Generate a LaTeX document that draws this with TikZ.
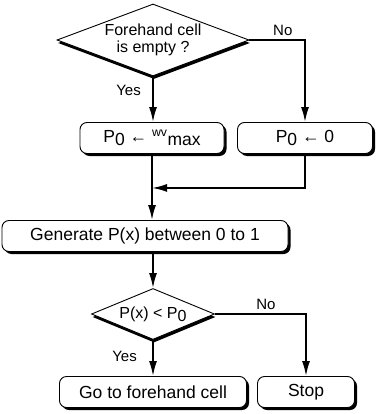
\documentclass[tikz,border=0pt]{standalone}
\usepackage{fontspec}
\setmainfont{Liberation Sans}
\usepackage{tikz}
\usetikzlibrary{arrows.meta}
\usetikzlibrary{shapes.geometric}
\usetikzlibrary{shadows}
\tikzset{>={Latex[length=15pt,width=8pt]}}
\newcommand{\lowered}[1]{\raisebox{-3pt}{#1}}
\tikzset{
  stepbox/.style={draw, line width=0.9pt, rounded corners=7pt, fill=white, inner sep=0pt,
    minimum height=31pt, font=\fontsize{17.5}{19}\selectfont,
    drop shadow={fill=black, opacity=1, shadow xshift=2.5pt, shadow yshift=-2.5pt}},
  test/.style={draw, diamond, line width=0.9pt, fill=white, inner sep=0pt, align=center,
    font=\fontsize{16}{17}\selectfont,
    drop shadow={fill=black, opacity=1, shadow xshift=1pt, shadow yshift=-3pt}},
  flow/.style={->, line width=1.8pt},
  answer/.style={font=\fontsize{15}{16}\selectfont}
}

\begin{document}
\begin{tikzpicture}[x=1pt, y=-1pt, font=\fontsize{15}{16}\selectfont]
            \useasboundingbox (0, 0) rectangle (377, 414);
            \node[test, aspect=2.67, minimum width=192pt, minimum height=72pt] (empty) at (153, 40) {Forehand cell\\is empty ?};
            \node[stepbox, minimum width=144pt] (setmax) at (152, 138) {P\lowered{0} ← \textsuperscript{wv}\lowered{max}};
            \node[stepbox, minimum width=135pt] (setzero) at (305, 138) {P\lowered{0} ← 0};
            \node[stepbox, minimum width=286pt] (generate) at (145, 236) {Generate P(x) between 0 to 1};
            \node[test, aspect=2.4, minimum width=123pt, minimum height=51pt] (compare) at (153, 314) {P(x) < P\lowered{0}};
            \node[stepbox, minimum width=187pt] (move) at (153, 392) {Go to forehand cell};
            \node[stepbox, minimum width=97pt] (stop) at (306, 392) {Stop};
            \draw[flow] (empty.south) -- (empty.south |- setmax.north) node[answer, pos=0.3, left, xshift=-8pt] {Yes};
            \draw[flow] (empty.east) -| (setzero.north) node[answer, pos=0.3, above] {No};
            \path (setmax.south) ++(0, 34) coordinate (join);
            \draw[flow] (setmax.south) -- (setmax.south |- generate.north);
            \draw[flow] (setzero.south) |- (join);
            \draw[flow] (generate.south -| compare.north) -- (compare.north);
            \draw[flow] (compare.south) -- (move.north) node[answer, pos=0.45, left, xshift=-12pt] {Yes};
            \draw[flow] (compare.east) -| (stop.north) node[answer, pos=0.28, above] {No};
        \end{tikzpicture}
\end{document}
